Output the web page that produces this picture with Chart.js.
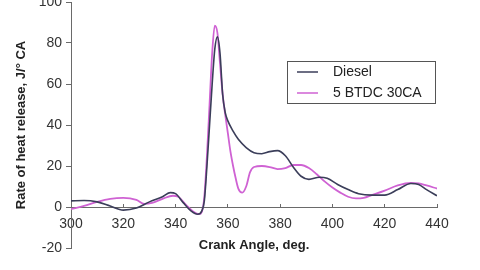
<!DOCTYPE html>
<html>
<head>
<meta charset="utf-8">
<script src="https://cdn.jsdelivr.net/npm/chart.js@4.4.1/dist/chart.umd.min.js"></script>
<style>
  html, body { margin: 0; padding: 0; background: #fff; overflow: hidden; }
  #wrap { position: absolute; left: 0; top: -12px; width: 480px; height: 282px; }
</style>
</head>
<body>
<div id="wrap"><canvas id="heatChart"></canvas></div>
<script>
// crank angle (deg) and heat release (J/deg CA)
const dieselAngle = [300, 305, 310, 315, 320, 325, 330, 335, 338, 340, 343, 346, 348.5, 350, 351, 352, 353, 354, 355, 356, 357, 358, 359, 360, 362, 364, 367, 370, 373, 376, 379, 382, 385, 388, 391, 395, 398, 402, 406, 410, 415, 420, 425, 430, 433, 436, 440];
const dieselRate = [3, 3.2, 2.5, 0.5, -1.5, -0.5, 2.5, 5, 7, 6.5, 2, -2, -3.5, -2, 3, 20, 40, 60, 77, 83, 75, 55, 46, 42, 37, 33, 29, 26.5, 26, 27, 27.5, 25, 19.5, 15, 13.5, 14.5, 14, 11, 8.5, 6.5, 5.8, 5.8, 8.5, 11.5, 11, 8.5, 5.5];

const btdcAngle = [300, 305, 310, 315, 320, 325, 328, 331, 335, 339, 341, 344, 347, 349, 350, 351, 352, 353, 354, 355, 356, 357, 358, 359, 360, 361, 362, 363, 364, 365.5, 367, 368.5, 370, 373, 376, 379, 382, 385, 388, 391, 394, 397, 400, 403, 406, 409, 412, 415, 420, 425, 430, 433, 436, 440];
const btdcRate = [-1, 0.5, 2.5, 4, 4.5, 3.5, 1.5, 2, 4, 5.5, 5, 1, -2.5, -3.5, -2.5, 5, 25, 50, 75, 88.5, 85, 70, 55, 45, 36, 27, 20, 14, 9, 7, 10, 17, 19.5, 20, 19.5, 18.5, 19, 20.5, 20.5, 19, 16, 12.5, 9.5, 7, 5, 4.2, 4.5, 5.8, 8, 10.5, 11.7, 11.5, 10.5, 9];

const seriesNames = ['Diesel', '5 BTDC 30CA'];
const seriesColors = ['#3b3e5a', '#cf62d3'];

const xTicks = [300, 320, 340, 360, 380, 400, 420, 440];
const yTicks = [-20, 0, 20, 40, 60, 80, 100];

const toPoints = (xs, ys) => xs.map((x, i) => ({ x: x, y: ys[i] }));

const FONT = '"Liberation Sans", Arial, sans-serif';
const axisGray = '#6a6a6a';

// boxed legend sitting inside the plot, like the original
const boxLegend = {
    id: 'boxLegend',
    afterDraw(chart) {
        const ctx = chart.ctx;
        const area = chart.chartArea;
        const left = area.right - 150;
        const top = area.top + 59;
        ctx.save();
        ctx.strokeStyle = '#555';
        ctx.lineWidth = 1;
        ctx.strokeRect(Math.round(left) + 0.5, Math.round(top) + 0.5, 148, 42);
        ctx.font = '14px ' + FONT;
        ctx.textBaseline = 'middle';
        chart.data.datasets.forEach((ds, i) => {
            const y = top + 11 + i * 21;
            ctx.strokeStyle = ds.borderColor;
            ctx.lineWidth = 1.5;
            ctx.beginPath();
            ctx.moveTo(left + 10, y);
            ctx.lineTo(left + 31, y);
            ctx.stroke();
            ctx.fillStyle = '#222';
            ctx.fillText(ds.label, left + 46, y);
        });
        ctx.restore();
    }
};

new Chart(document.getElementById('heatChart'), {
    type: 'line',
    data: {
        datasets: [{
            label: seriesNames[0],
            data: toPoints(dieselAngle, dieselRate),
            borderColor: seriesColors[0],
            borderWidth: 1.6,
            pointRadius: 0,
            cubicInterpolationMode: 'monotone'
        }, {
            label: seriesNames[1],
            data: toPoints(btdcAngle, btdcRate),
            borderColor: seriesColors[1],
            borderWidth: 1.8,
            pointRadius: 0,
            cubicInterpolationMode: 'monotone'
        }]
    },
    plugins: [boxLegend],
    options: {
        responsive: true,
        maintainAspectRatio: false,
        animation: false,
        layout: { padding: { top: 14, right: 43, bottom: 22, left: 0 } },
        plugins: {
            legend: { display: false },
            tooltip: { enabled: false }
        },
        scales: {
            x: {
                type: 'linear',
                position: { y: 0 },
                min: 300,
                max: 440,
                afterBuildTicks: (scale) => { scale.ticks = xTicks.map(v => ({ value: v })); },
                afterFit: (scale) => { scale.height = 46; },
                ticks: { color: '#333', font: { family: FONT, size: 14 }, padding: 13 },
                grid: { drawOnChartArea: false, tickLength: -4, color: axisGray },
                border: { color: axisGray, width: 1 },
                title: {
                    display: true,
                    text: 'Crank Angle, deg.',
                    color: '#222',
                    font: { family: FONT, size: 13, weight: 'bold' },
                    padding: { top: 4, bottom: 0 }
                }
            },
            y: {
                min: -20,
                max: 100,
                afterBuildTicks: (scale) => { scale.ticks = yTicks.map(v => ({ value: v })); },
                afterFit: (scale) => { scale.width = 71; },
                ticks: { color: '#333', font: { family: FONT, size: 14 }, padding: 4 },
                grid: { drawOnChartArea: false, tickLength: 5, color: axisGray },
                border: { color: axisGray, width: 1 },
                title: {
                    display: true,
                    text: 'Rate of heat release, J/° CA',
                    color: '#222',
                    font: { family: FONT, size: 13, weight: 'bold' },
                    padding: { top: 14, bottom: 0 }
                }
            }
        }
    }
});
</script>
</body>
</html>
